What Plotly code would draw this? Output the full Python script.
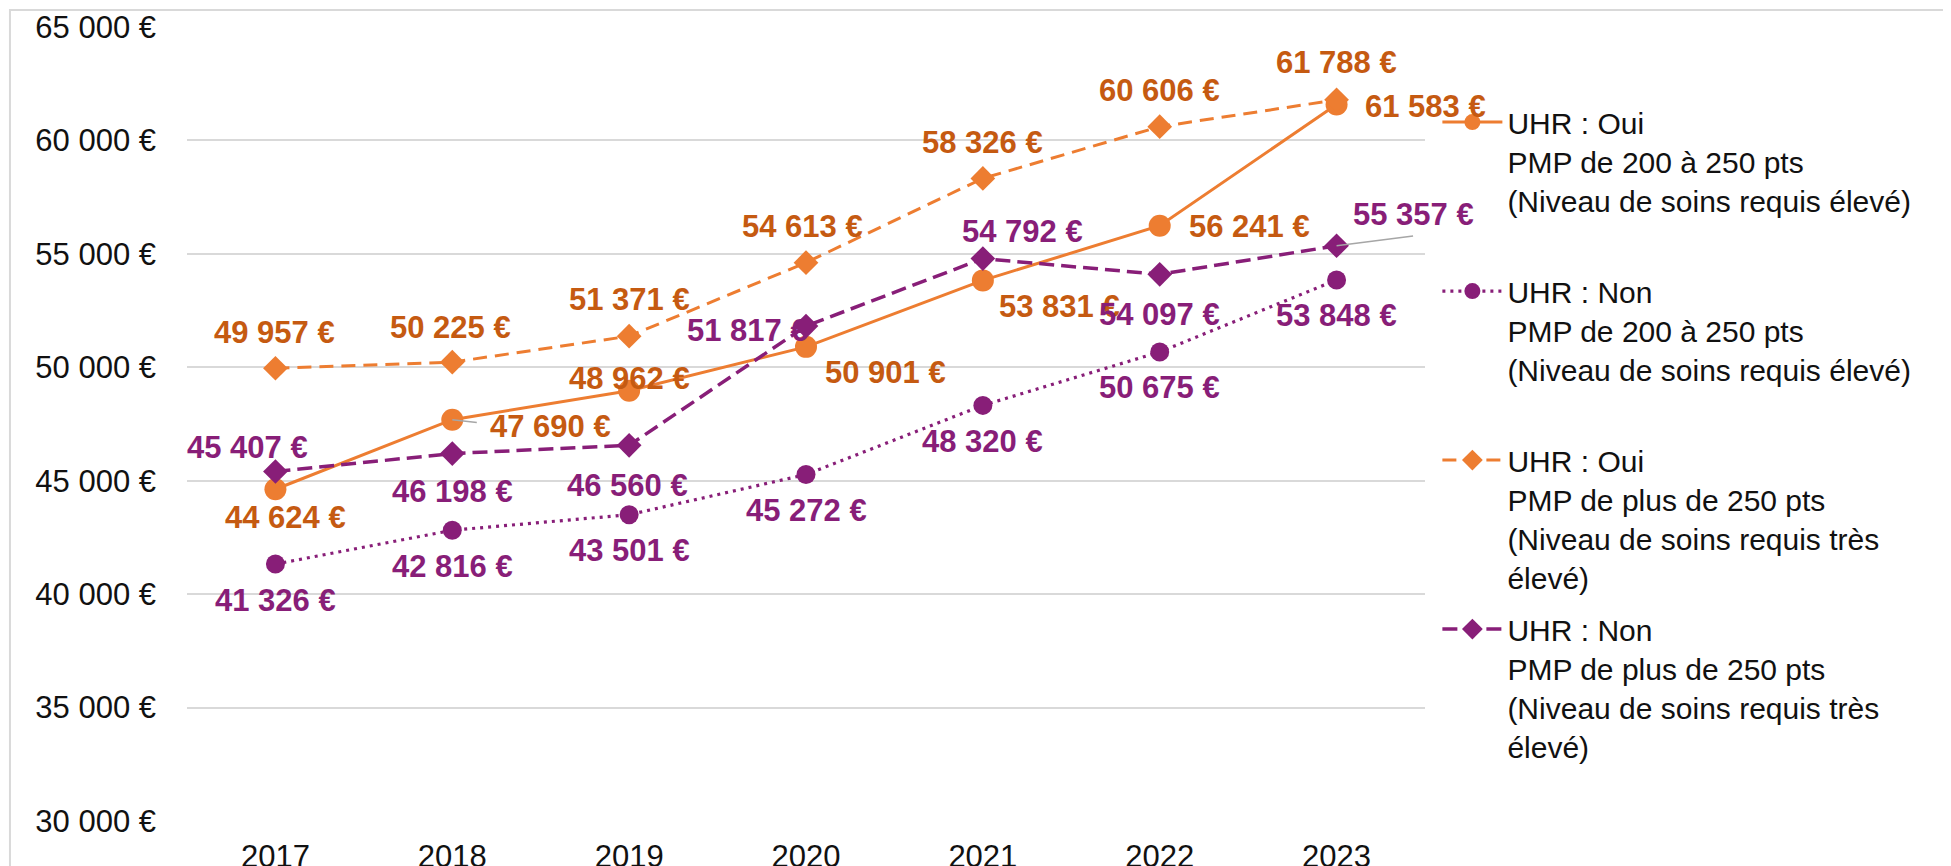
import plotly.graph_objects as go

# ---------------- data ----------------
years = ["2017", "2018", "2019", "2020", "2021", "2022", "2023"]
oui_200_250 = [44624, 47690, 48962, 50901, 53831, 56241, 61583]
non_200_250 = [41326, 42816, 43501, 45272, 48320, 50675, 53848]
oui_250_plus = [49957, 50225, 51371, 54613, 58326, 60606, 61788]
non_250_plus = [45407, 46198, 46560, 51817, 54792, 54097, 55357]

names = [
    "UHR : Oui<br>PMP de 200 à 250 pts<br>(Niveau de soins requis élevé)<br> ",
    "UHR : Non<br>PMP de 200 à 250 pts<br>(Niveau de soins requis élevé)<br> ",
    "UHR : Oui<br>PMP de plus de 250 pts<br>(Niveau de soins requis très<br>élevé)",
    "UHR : Non<br>PMP de plus de 250 pts<br>(Niveau de soins requis très<br>élevé)",
]

# ---------------- styles ----------------
ORANGE = "#ED7D31"
ORANGE_TXT = "#C55A11"
PURPLE = "#881E78"
TEXT = "#111111"
FONT = "Liberation Sans, Arial, sans-serif"
FS_TICK = 31
FS_LABEL = 31
FS_LEGEND = 30

# label placement per point: (xanchor, dx px, dy px downward)
pos_s1 = [("center", 10, 28), ("left", 36, 7), ("center", 0, -12), ("left", 17, 26),
          ("left", 14, 26), ("left", 27, 1), ("left", 26, 2)]
pos_s2 = [("center", 0, 36)] * 7
pos_s3 = [("center", -1, -36), ("center", -2, -35), ("center", 0, -37), ("center", -4, -36),
          ("center", 0, -36), ("center", 0, -36), ("center", 0, -37)]
pos_s4 = [("center", -28, -24), ("center", 0, 38), ("center", -2, 40), ("right", 4, 4),
          ("center", 40, -27), ("center", 0, 40), ("center", 77, -31)]

series = [
    dict(y=oui_200_250, name=names[0], color=ORANGE, txt=ORANGE_TXT, dash="solid",
         symbol="circle", size=22, width=3, pos=pos_s1),
    dict(y=non_200_250, name=names[1], color=PURPLE, txt=PURPLE, dash="3px,5px",
         symbol="circle", size=19, width=3.2, pos=pos_s2),
    dict(y=oui_250_plus, name=names[2], color=ORANGE, txt=ORANGE_TXT, dash="14px,8px",
         symbol="diamond", size=19, width=3, pos=pos_s3),
    dict(y=non_250_plus, name=names[3], color=PURPLE, txt=PURPLE, dash="15px,7px",
         symbol="diamond", size=19, width=3.5, pos=pos_s4),
]


def fmt_eur(v):
    return f"{v:,}".replace(",", " ") + " €"


fig = go.Figure()
annotations = []
for i, s in enumerate(series):
    fig.add_trace(go.Scatter(
        x=years, y=s["y"], name=s["name"], mode="lines+markers",
        legendgroup=f"g{i}",
        line=dict(color=s["color"], width=s["width"], dash=s["dash"]),
        marker=dict(symbol=s["symbol"], size=s["size"], color=s["color"],
                    line=dict(width=0)),
        cliponaxis=False, hoverinfo="x+y",
    ))
    # category axis: annotations use the category serial number
    for xi, v, (anc, dx, dy) in zip(range(len(years)), s["y"], s["pos"]):
        annotations.append(dict(
            x=xi, y=v, xref="x", yref="y", text=fmt_eur(v), showarrow=False,
            xanchor=anc, yanchor="middle", xshift=dx, yshift=-dy,
            font=dict(family=FONT, size=FS_LABEL, color=s["txt"], weight="bold"),
        ))

# leader lines (label connectors): (category index, value, ax, ay)
leaders = [(1, oui_200_250[1], 26, 3), (6, non_250_plus[6], 78, -10)]
for xi, v, ax, ay in leaders:
    annotations.append(dict(
        x=xi, y=v, xref="x", yref="y", text="", showarrow=True, arrowhead=0,
        arrowwidth=1.5, arrowcolor="#A6A6A6", ax=ax, ay=ay, standoff=0,
    ))

fig.update_layout(
    width=1951, height=866, autosize=False,
    margin=dict(l=179, r=534, t=19, b=53, autoexpand=False),
    paper_bgcolor="white", plot_bgcolor="white",
    separators=", ",
    font=dict(family=FONT, size=FS_TICK, color=TEXT),
    annotations=annotations,
    showlegend=True,
    legend=dict(
        x=1.010, y=0.913, xanchor="left", yanchor="top",
        font=dict(family=FONT, size=FS_LEGEND, color=TEXT),
        valign="top", tracegroupgap=10, traceorder="grouped",
        bgcolor="rgba(0,0,0,0)", itemwidth=60,
    ),
    shapes=[dict(type="rect", xref="paper", yref="paper",
                 x0=-0.143, y0=-0.08, x1=1.45, y1=1.0214,
                 line=dict(color="#D9D9D9", width=2), layer="below")],
)

fig.update_xaxes(
    type="category", range=[-0.5, len(years) - 0.5], automargin=False,
    showgrid=False, showline=False, zeroline=False,
    ticks="", ticklabelstandoff=14,
    tickfont=dict(family=FONT, size=FS_TICK, color=TEXT),
)
fig.update_yaxes(
    range=[30000, 65000], dtick=5000, tickformat=",d", ticksuffix=" €",
    automargin=False,
    showgrid=True, gridcolor="#D9D9D9", gridwidth=2,
    showline=False, zeroline=False, ticks="", ticklabelstandoff=30,
    tickfont=dict(family=FONT, size=FS_TICK, color=TEXT),
)

fig.write_html("out.html")
